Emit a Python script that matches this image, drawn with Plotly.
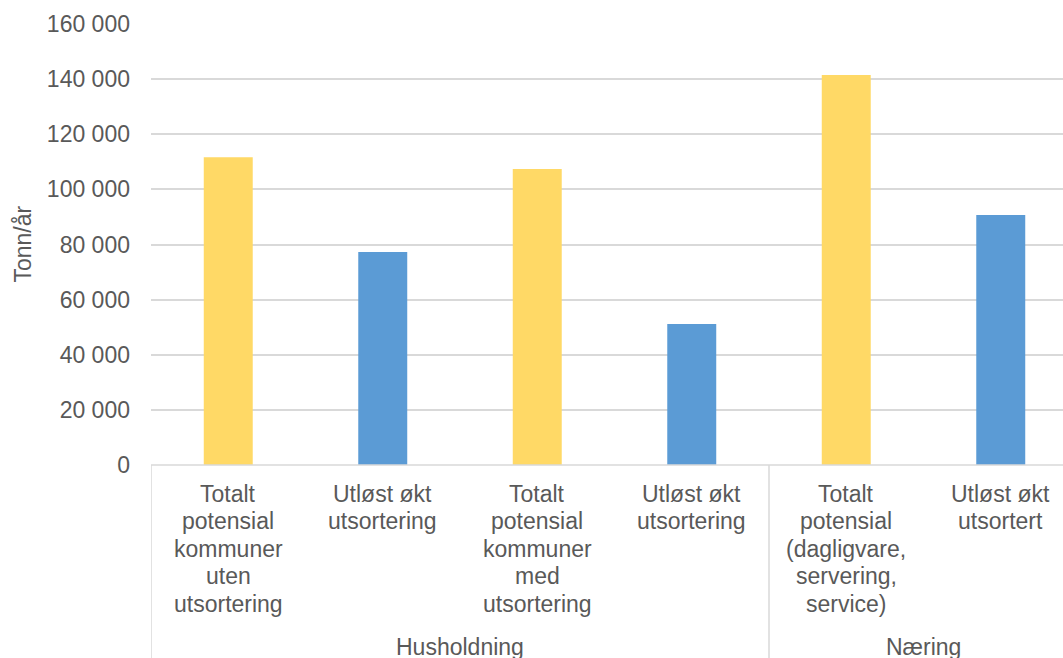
import plotly.graph_objects as go

# Categories (one line per list entry) and their group labels
categories = [
    ["Totalt", "potensial", "kommuner", "uten", "utsortering"],
    ["Utløst økt", "utsortering"],
    ["Totalt", "potensial", "kommuner", "med", "utsortering"],
    ["Utløst økt", "utsortering"],
    ["Totalt", "potensial", "(dagligvare,", "servering,", "service)"],
    ["Utløst økt", "utsortert"],
]
groups = ["Husholdning", "Næring"]
group_spans = [(0, 3), (4, 5)]

# Tonnes per year
values = [111700, 77300, 107400, 51200, 141500, 90700]
bar_colors = ["#FFD966", "#5B9BD5", "#FFD966", "#5B9BD5", "#FFD966", "#5B9BD5"]

y_ticks = [0, 20000, 40000, 60000, 80000, 100000, 120000, 140000, 160000]
y_tick_text = ["0", "20 000", "40 000", "60 000", "80 000", "100 000",
               "120 000", "140 000", "160 000"]

W, H = 1063, 658
M_L, M_R, M_T, M_B = 151, 0, 24, 193
PLOT_H = H - M_T - M_B
TEXT = "#595959"
GRID = "#D9D9D9"
FONT = "Liberation Sans, Arial, sans-serif"
FS = 23


def paper_y(px):
    """Convert a pixel row in the page into paper y coordinates."""
    return (H - M_B - px) / PLOT_H


x_pos = list(range(len(values)))

fig = go.Figure(
    go.Bar(
        x=x_pos,
        y=values,
        width=0.317,
        marker=dict(color=bar_colors, line=dict(width=0)),
        hoverinfo="skip",
    )
)

annotations = []
# Category labels, one annotation per text line for tight line spacing
line_step = 27.5
first_center = 493.7
for i, lines in enumerate(categories):
    for k, txt in enumerate(lines):
        annotations.append(dict(
            x=i, xref="x", y=paper_y(first_center + k * line_step), yref="paper",
            text=txt, showarrow=False, xanchor="center", yanchor="middle",
            font=dict(family=FONT, size=FS, color=TEXT),
        ))

# Group labels
for name, (a, b) in zip(groups, group_spans):
    annotations.append(dict(
        x=(a - 0.5 + b + 0.5) / 2, xref="x", y=paper_y(647), yref="paper",
        text=name, showarrow=False, xanchor="center", yanchor="middle",
        font=dict(family=FONT, size=FS, color=TEXT),
    ))

# Y axis title
annotations.append(dict(
    x=(22 - M_L) / (W - M_L - M_R), xref="paper", y=0.5, yref="paper",
    text="Tonn/år", textangle=-90, showarrow=False,
    xanchor="center", yanchor="middle",
    font=dict(family=FONT, size=FS, color=TEXT),
))

shapes = []
# Baseline of the category axis
shapes.append(dict(type="line", xref="paper", yref="paper", x0=0, x1=1, y0=0, y1=0,
                   line=dict(color=GRID, width=1.5)))
# Vertical dividers of the two-level category axis
for xb in [-0.5, 3.5, 5.5]:
    shapes.append(dict(type="line", xref="x", yref="paper", x0=xb, x1=xb,
                       y0=0, y1=paper_y(H + 2), line=dict(color=GRID, width=1.5)))

fig.update_layout(
    width=W, height=H,
    margin=dict(l=M_L, r=M_R, t=M_T, b=M_B, pad=0),
    paper_bgcolor="white", plot_bgcolor="white",
    showlegend=False,
    font=dict(family=FONT, size=FS, color=TEXT),
    xaxis=dict(
        range=[-0.5, -0.5 + (W - M_L - M_R) / 154.5],
        showticklabels=False, showgrid=False, zeroline=False, showline=False,
        fixedrange=True,
    ),
    yaxis=dict(
        range=[0, 160000], tickvals=y_ticks, ticktext=y_tick_text,
        showgrid=True, gridcolor=GRID, gridwidth=1.5,
        zeroline=False, showline=False, ticks="",
        ticklabelstandoff=20,
        tickfont=dict(family=FONT, size=FS, color=TEXT),
        fixedrange=True,
    ),
    annotations=annotations,
    shapes=shapes,
)

fig.write_html("out.html")
